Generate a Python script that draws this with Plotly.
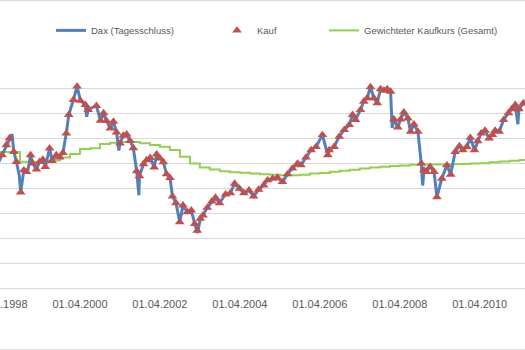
import plotly.graph_objects as go

# DAX daily close (sampled), purchase dates and weighted purchase price
dax_dates = [
    "1998-03-16", "1998-04-20", "1998-05-29", "1998-06-26", "1998-07-20", "1998-08-05",
    "1998-08-29", "1998-09-24", "1998-10-07", "1998-11-05", "1998-11-29", "1998-12-14",
    "1999-01-05", "1999-01-25", "1999-02-28", "1999-03-29", "1999-04-28", "1999-05-20",
    "1999-06-28", "1999-07-20", "1999-08-28", "1999-09-28", "1999-10-28", "1999-11-28",
    "1999-12-20", "2000-02-01", "2000-03-05", "2000-04-05", "2000-05-20", "2000-06-01",
    "2000-06-15", "2000-07-15", "2000-08-29", "2000-10-05", "2000-11-02", "2000-11-29",
    "2001-01-02", "2001-01-31", "2001-03-01", "2001-03-22", "2001-04-02", "2001-05-02",
    "2001-06-01", "2001-07-02", "2001-08-01", "2001-09-01", "2001-09-21", "2001-09-26",
    "2001-11-02", "2001-12-01", "2002-01-02", "2002-02-08", "2002-03-02", "2002-04-02",
    "2002-05-02", "2002-06-01", "2002-07-02", "2002-07-25", "2002-08-26", "2002-09-29",
    "2002-10-29", "2002-12-08", "2003-01-13", "2003-02-13", "2003-03-08", "2003-03-12",
    "2003-04-05", "2003-04-30", "2003-06-08", "2003-07-20", "2003-08-22", "2003-09-28",
    "2003-11-22", "2004-01-05", "2004-02-13", "2004-03-28", "2004-05-08", "2004-06-23",
    "2004-08-04", "2004-09-19", "2004-11-04", "2004-12-10", "2005-01-25", "2005-03-10",
    "2005-04-25", "2005-06-10", "2005-07-25", "2005-09-10", "2005-10-11", "2005-11-26",
    "2006-01-11", "2006-02-26", "2006-04-25", "2006-06-13", "2006-06-26", "2006-08-10",
    "2006-09-25", "2006-11-10", "2006-12-26", "2007-01-25", "2007-02-22", "2007-04-08",
    "2007-05-08", "2007-06-08", "2007-07-08", "2007-08-08", "2007-09-08", "2007-10-08",
    "2007-11-08", "2007-12-08", "2008-01-08", "2008-01-22", "2008-02-08", "2008-03-14",
    "2008-04-08", "2008-05-08", "2008-06-14", "2008-07-08", "2008-08-08", "2008-09-14",
    "2008-10-14", "2008-10-27", "2008-11-08", "2008-11-29", "2009-01-02", "2009-02-08",
    "2009-03-06", "2009-04-20", "2009-06-05", "2009-07-10", "2009-08-20", "2009-09-28",
    "2009-10-29", "2009-12-05", "2010-01-05", "2010-02-13", "2010-03-14", "2010-04-14",
    "2010-05-20", "2010-06-26", "2010-07-26", "2010-08-20", "2010-09-26", "2010-11-05",
    "2010-12-20", "2011-01-20", "2011-02-20", "2011-03-16", "2011-03-26", "2011-05-05",
    "2011-06-01",
]
dax_close = [
    5000, 5320, 5720, 5990, 6150, 5450,
    5050, 4500, 3830, 4715, 4650, 4750,
    5320, 4985, 4745, 5050, 5145, 4850,
    5590, 5090, 5320, 5225, 5410, 6190,
    6930, 7530, 8065, 7500, 7330, 6850,
    7130, 7200, 7290, 6700, 7000, 6690,
    6390, 6660, 6230, 5500, 5790, 6100,
    6150, 5890, 5600, 4680, 3710, 4475,
    4960, 5120, 5210, 4825, 5350, 5190,
    5040, 4555, 4410, 3670, 3400, 2640,
    3310, 3040, 3110, 2570, 2300, 2200,
    2775, 2910, 3215, 3470, 3620, 3400,
    3750, 3800, 4180, 3980, 3800, 3910,
    3670, 3940, 4110, 4315, 4380, 4420,
    4245, 4555, 4785, 4985, 4915, 5225,
    5520, 5650, 6125, 5320, 5520, 5650,
    6055, 6325, 6525, 6930, 6725, 7130,
    7460, 7600, 8040, 7600, 7400, 7960,
    7900, 7960, 7860, 6400, 6750, 6430,
    6750, 7030, 6790, 6255, 6550, 6255,
    4985, 4100, 4715, 4650, 4850, 4650,
    3640, 4380, 4915, 4540, 5450, 5680,
    5520, 5650, 6015, 5520, 5880, 6190,
    6300, 5990, 6125, 6300, 6255, 6725,
    7000, 7160, 7330, 6550, 7160, 7400,
    7300,
]

# Days on which a purchase was made (looked up in the close series)
no_purchase = {"1998-03-16", "1998-07-20", "1998-09-24", "1998-12-14", "2000-06-01",
               "2000-07-15", "2001-03-22", "2001-09-21", "2003-03-12", "2008-01-22",
               "2008-10-27", "2011-03-16", "2011-06-01"}
kauf_dates = [d for d in dax_dates if d not in no_purchase]
close_by_date = dict(zip(dax_dates, dax_close))
kauf_price = [close_by_date[d] for d in kauf_dates]

# Weighted average purchase price, updated quarterly
avg_dates = [
    "1998-01-01", "1998-04-01", "1998-07-01", "1998-10-01", "1999-01-01", "1999-04-01",
    "1999-07-01", "1999-10-01", "2000-01-01", "2000-04-01", "2000-07-01", "2000-10-01",
    "2001-01-01", "2001-04-01", "2001-07-01", "2001-10-01", "2002-01-01", "2002-04-01",
    "2002-07-01", "2002-10-01", "2003-01-01", "2003-04-01", "2003-07-01", "2003-10-01",
    "2004-01-01", "2004-04-01", "2004-07-01", "2004-10-01", "2005-01-01", "2005-04-01",
    "2005-07-01", "2005-10-01", "2006-01-01", "2006-04-01", "2006-07-01", "2006-10-01",
    "2007-01-01", "2007-04-01", "2007-07-01", "2007-10-01", "2008-01-01", "2008-04-01",
    "2008-07-01", "2008-10-01", "2009-01-01", "2009-04-01", "2009-07-01", "2009-10-01",
    "2010-01-01", "2010-04-01", "2010-07-01", "2010-10-01", "2011-01-01", "2011-04-01",
    "2011-07-01",
]
avg_price = [
    5440, 5440, 5440, 5050, 5050, 5080,
    5100, 5220, 5360, 5560, 5590, 5760,
    5815, 5840, 5840, 5790, 5720, 5650,
    5520, 5250, 4985, 4825, 4745, 4675,
    4635, 4610, 4585, 4555, 4535, 4515,
    4515, 4535, 4585, 4605, 4650, 4690,
    4735, 4785, 4825, 4850, 4880, 4900,
    4930, 4940, 4940, 4945, 4950, 4965,
    4980, 4990, 5030, 5060, 5090, 5120,
    5120,
]

TEXT = "#595959"
GRID = "#d9d9d9"
FONT = "Liberation Sans"

fig = go.Figure()
fig.add_trace(go.Scatter(
    x=avg_dates, y=avg_price, mode="lines", line_shape="hv",
    line=dict(color="#92d050", width=2),
    name="Gewichteter Kaufkurs (Gesamt)", legend="legend3", showlegend=True,
))
fig.add_trace(go.Scatter(
    x=dax_dates, y=dax_close, mode="lines",
    line=dict(color="#4f81bd", width=3),
    name="Dax (Tagesschluss)", legend="legend", showlegend=True,
))
fig.add_trace(go.Scatter(
    x=kauf_dates, y=kauf_price, mode="markers",
    marker=dict(symbol="triangle-up", size=8.5, color="#c0504d"),
    name="Kauf", legend="legend2", showlegend=True,
))

legend_common = dict(orientation="h", yanchor="middle", y=1.145, xanchor="left",
                     bgcolor="rgba(0,0,0,0)", font=dict(family=FONT, size=9.5, color=TEXT))

fig.update_layout(
    width=525, height=350,
    margin=dict(l=0, r=0, t=63, b=62, autoexpand=False),
    showlegend=True,
    paper_bgcolor="white", plot_bgcolor="white",
    legend=dict(x=51 / 525, **legend_common),
    legend2=dict(x=217 / 525, **legend_common),
    legend3=dict(x=324 / 525, **legend_common),
    xaxis=dict(
        type="date", range=["1998-04-01", "2011-05-20"], automargin=False,
        tick0="1998-04-01", dtick="M24", tickformat="%d.%m.%Y",
        showgrid=False, showline=True, linecolor=GRID, linewidth=1,
        ticks="", ticklabeloverflow="allow", ticklabelstandoff=6,
        tickfont=dict(family=FONT, size=11, color=TEXT),
    ),
    yaxis=dict(
        range=[0, 9000], dtick=1000, showticklabels=False, automargin=False,
        gridcolor=GRID, gridwidth=1, zeroline=False, ticks="",
    ),
    shapes=[
        dict(type="line", xref="paper", yref="paper", x0=-0.01, x1=1.01,
             y0=(288 - 0.5) / 225, y1=(288 - 0.5) / 225, line=dict(color=GRID, width=1)),
        dict(type="line", xref="paper", yref="paper", x0=-0.01, x1=1.01,
             y0=(288 - 349.5) / 225, y1=(288 - 349.5) / 225, line=dict(color=GRID, width=1)),
    ],
)

fig.write_html("out.html")
